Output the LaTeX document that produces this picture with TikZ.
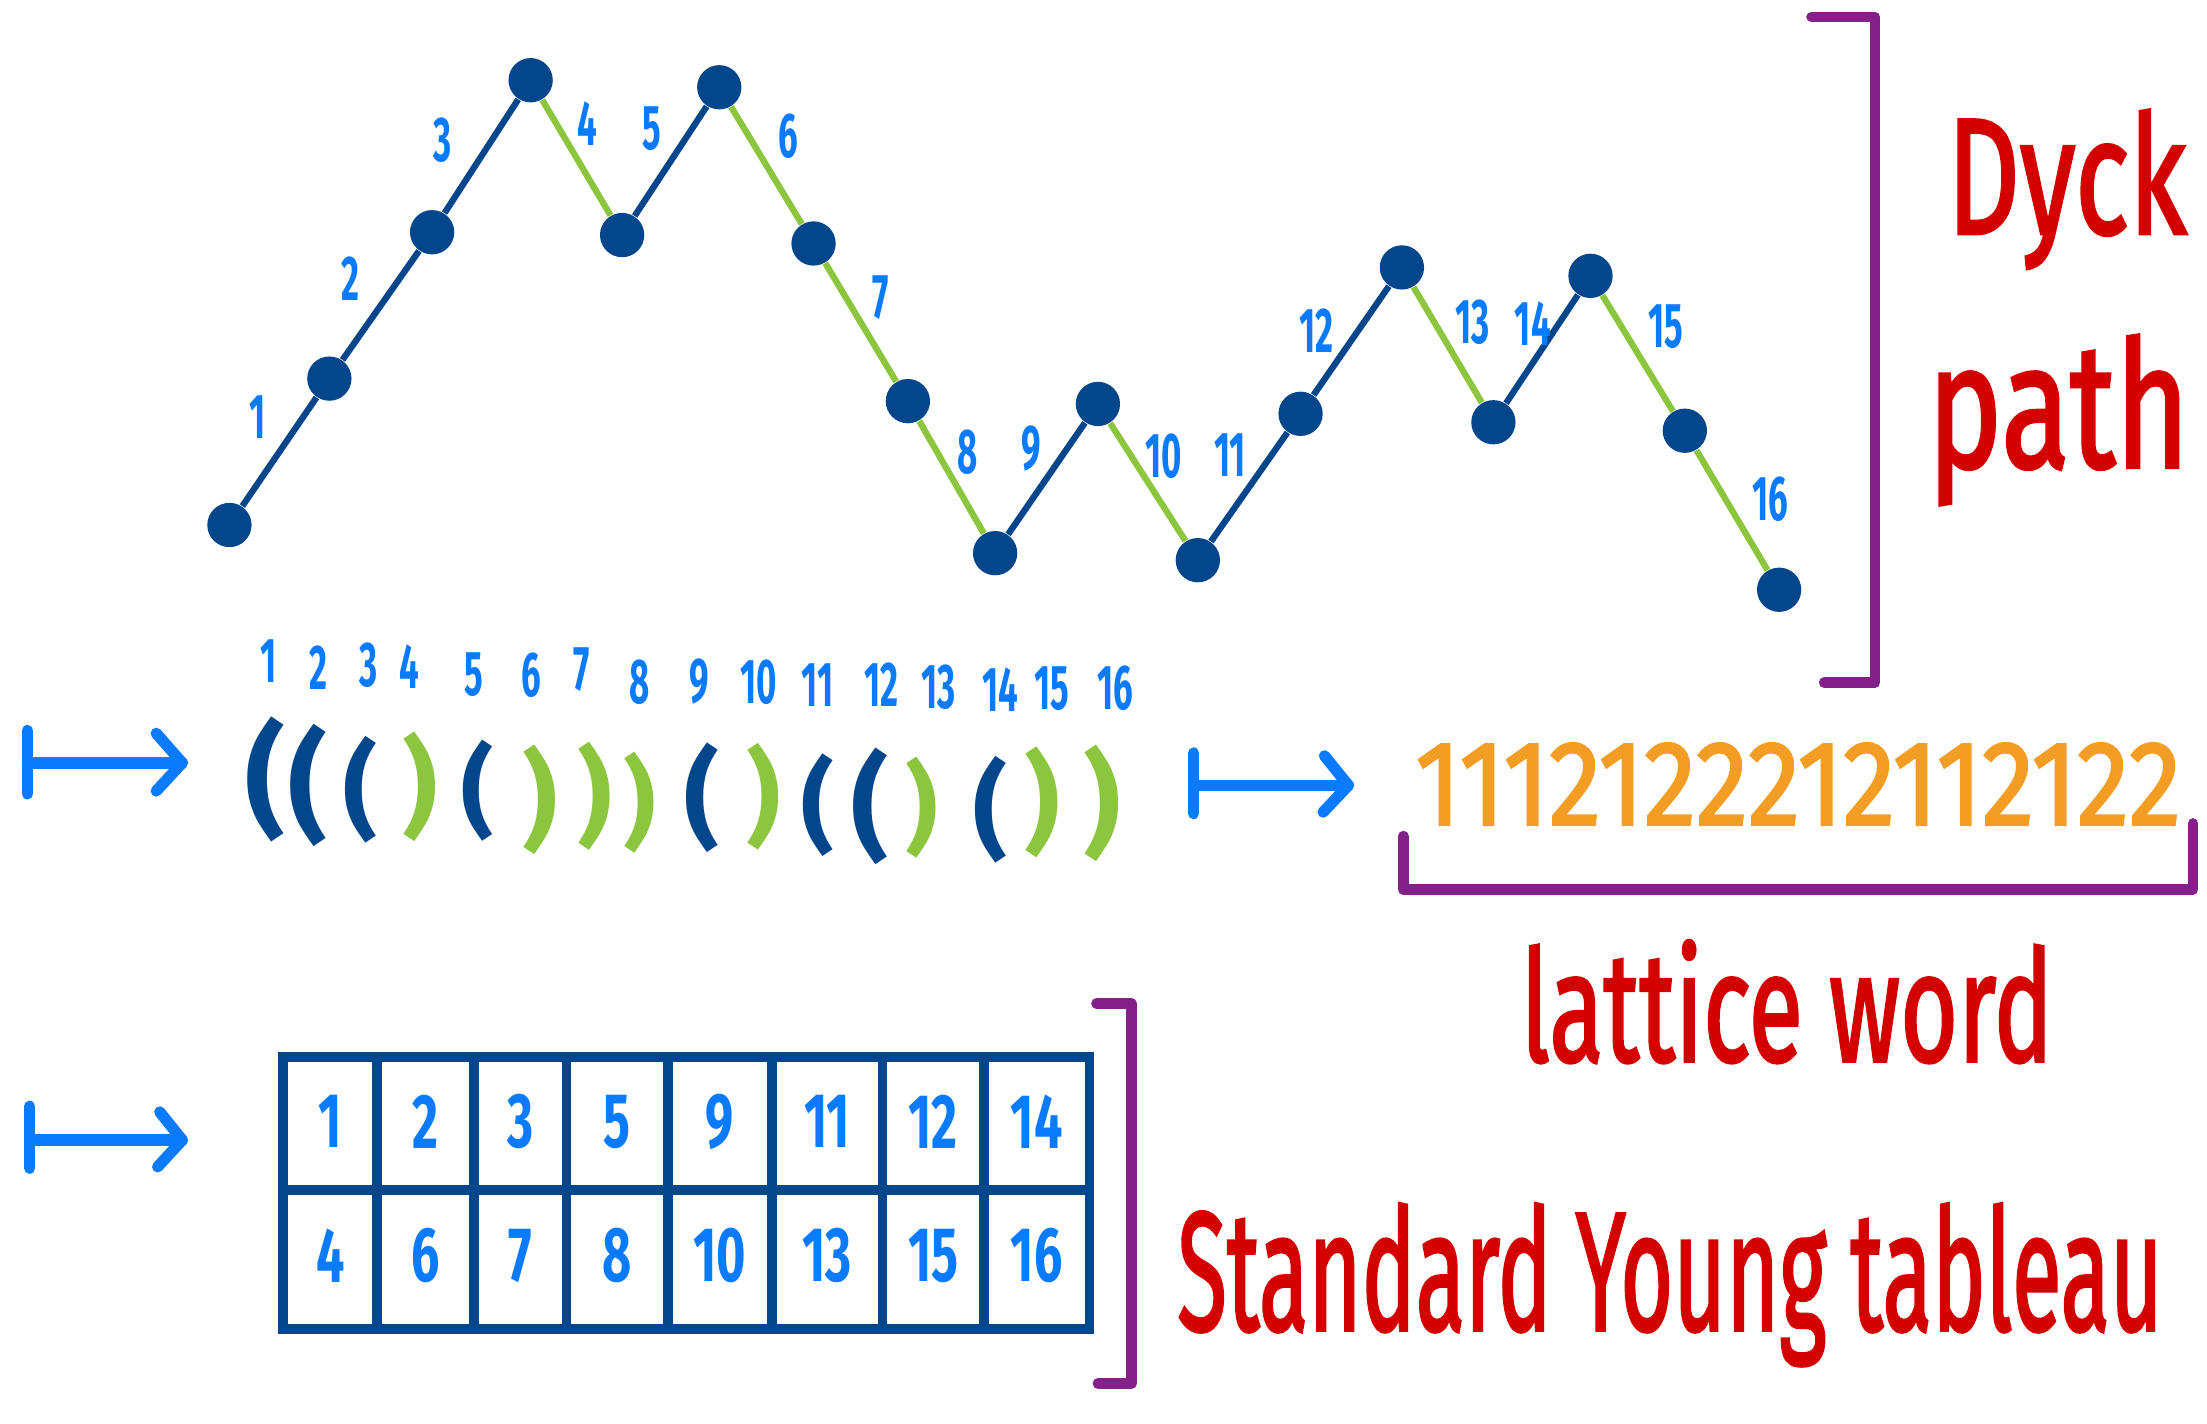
\documentclass[tikz,border=0pt]{standalone}
\usepackage{fontspec}
\setmainfont{Fira Sans}
\newfontfamily\handfont{Fira Sans}[FakeBold=2]
\usetikzlibrary{calc}
\definecolor{dblue}{HTML}{04468C}
\definecolor{lgreen}{HTML}{8CC63F}
\definecolor{lblue}{HTML}{0A7BFF}
\definecolor{hred}{HTML}{D40000}
\definecolor{hpurple}{HTML}{84208A}
\definecolor{horange}{HTML}{F49D25}
\newlength{\pxu}\setlength{\pxu}{0.014075cm}
\newcommand{\nb}[1]{\scalebox{0.55}[1]{#1}}
\newcommand{\tb}[1]{\scalebox{0.65}[1]{#1}}
\newcommand{\pr}[2]{\resizebox*{!}{#1\pxu}{#2}}
\begin{document}
\begin{tikzpicture}[x=0.014075cm,y=-0.014075cm,
 vdot/.style={circle,fill=dblue,minimum size=12.6pt,inner sep=0pt},
 upedge/.style={dblue,line width=1.8pt},
 downedge/.style={lgreen,line width=1.8pt},
 lbl/.style={text=lblue,font=\fontsize{18}{18}\selectfont\bfseries,inner sep=0pt},
 tnum/.style={text=lblue,font=\fontsize{22}{22}\selectfont\bfseries,inner sep=0pt},
 opn/.style={inner sep=0pt,text=dblue,font=\fontsize{30}{30}\selectfont\bfseries},
 cls/.style={inner sep=0pt,text=lgreen,font=\fontsize{30}{30}\selectfont\bfseries},
 hand/.style={text=hred,inner sep=0pt,anchor=base west,font=\fontsize{40}{40}\selectfont\handfont},
 brk/.style={hpurple,line width=3pt,line cap=round,line join=round},
 mapsto/.style={lblue,line width=3.2pt,line cap=round,line join=round},
 tabline/.style={dblue,line width=2.8pt}
]
\path[use as bounding box] (0,0) rectangle (1568,1011.7);

% ---------- Dyck path ----------
\node[vdot] (v0) at (163,373) {};
\node[vdot] (v1) at (234,269) {};
\node[vdot] (v2) at (307,165) {};
\node[vdot] (v3) at (377,57) {};
\node[vdot] (v4) at (442,167) {};
\node[vdot] (v5) at (511,62) {};
\node[vdot] (v6) at (578,173) {};
\node[vdot] (v7) at (645,285) {};
\node[vdot] (v8) at (707,393) {};
\node[vdot] (v9) at (780,287) {};
\node[vdot] (v10) at (851,398) {};
\node[vdot] (v11) at (924,294) {};
\node[vdot] (v12) at (996,190) {};
\node[vdot] (v13) at (1061,300) {};
\node[vdot] (v14) at (1130,196) {};
\node[vdot] (v15) at (1197,306) {};
\node[vdot] (v16) at (1264,419) {};

\draw[upedge] (v0) -- (v1);
\draw[upedge] (v1) -- (v2);
\draw[upedge] (v2) -- (v3);
\draw[downedge] (v3) -- (v4);
\draw[upedge] (v4) -- (v5);
\draw[downedge] (v5) -- (v6);
\draw[downedge] (v6) -- (v7);
\draw[downedge] (v7) -- (v8);
\draw[upedge] (v8) -- (v9);
\draw[downedge] (v9) -- (v10);
\draw[upedge] (v10) -- (v11);
\draw[upedge] (v11) -- (v12);
\draw[downedge] (v12) -- (v13);
\draw[upedge] (v13) -- (v14);
\draw[downedge] (v14) -- (v15);
\draw[downedge] (v15) -- (v16);

\node[lbl] (s1) at (183,296) {\nb{1}};
\node[lbl] (s2) at (249,198) {\nb{2}};
\node[lbl] (s3) at (314.5,99.5) {\nb{3}};
\node[lbl] (s4) at (417.6,88) {\nb{4}};
\node[lbl] (s5) at (463,91.6) {\nb{5}};
\node[lbl] (s6) at (560,97) {\nb{6}};
\node[lbl] (s7) at (625.7,211.6) {\nb{7}};
\node[lbl] (s8) at (687.6,321.5) {\nb{8}};
\node[lbl] (s9) at (732.5,319) {\nb{9}};
\node[lbl] (s10) at (827,324) {\nb{10}};
\node[lbl] (s11) at (874,323) {\nb{11}};
\node[lbl] (s12) at (935.6,234.7) {\nb{12}};
\node[lbl] (s13) at (1046,228.6) {\nb{13}};
\node[lbl] (s14) at (1089,230) {\nb{14}};
\node[lbl] (s15) at (1183.5,232) {\nb{15}};
\node[lbl] (s16) at (1258,354.6) {\nb{16}};

% bracket and label
\draw[brk] (1287,12) -- (1332,12) -- (1332,485) -- (1296,485);
\node[hand] (dyck) at (1383,166) {\resizebox{170\pxu}{88\pxu}{Dyck}};
\node[hand] (pathw) at (1369,332) {\resizebox{186\pxu}{94\pxu}{path}};

% ---------- parentheses row ----------
\coordinate (a1s) at (19.5,542);
\coordinate (a1e) at (129.5,542);
\draw[mapsto] (a1s) -- (a1e);
\draw[mapsto] ($(a1s)+(0,-23)$) -- ($(a1s)+(0,22)$);
\draw[mapsto] ($(a1e)+(-18.5,-21)$) -- (a1e) -- ($(a1e)+(-18.5,20)$);

\node[lbl] (q1) at (191,470) {\nb{1}};
\node[lbl] (q2) at (226,474.6) {\nb{2}};
\node[lbl] (q3) at (261.5,472.5) {\nb{3}};
\node[lbl] (q4) at (290.6,473.7) {\nb{4}};
\node[lbl] (q5) at (336.5,479.6) {\nb{5}};
\node[lbl] (q6) at (377.7,479.6) {\nb{6}};
\node[lbl] (q7) at (413,476) {\nb{7}};
\node[lbl] (q8) at (454.3,485) {\nb{8}};
\node[lbl] (q9) at (496.5,484) {\nb{9}};
\node[lbl] (q10) at (538.8,485) {\nb{10}};
\node[lbl] (q11) at (581,486.7) {\nb{11}};
\node[lbl] (q12) at (626,486.7) {\nb{12}};
\node[lbl] (q13) at (666.6,488) {\nb{13}};
\node[lbl] (q14) at (710.5,490) {\nb{14}};
\node[lbl] (q15) at (747.5,489) {\nb{15}};
\node[lbl] (q16) at (792.4,489) {\nb{16}};

\node[opn] (p1) at (188.6,553.5) {\pr{89}{(}};
\node[opn] (p2) at (219,558) {\pr{87}{(}};
\node[opn] (p3) at (256,561) {\pr{76}{(}};
\node[cls] (p4) at (298.5,559) {\pr{78}{)}};
\node[opn] (p5) at (339.7,562) {\pr{72}{(}};
\node[cls] (p6) at (384,568) {\pr{78}{)}};
\node[cls] (p7) at (422.6,565.5) {\pr{77}{)}};
\node[cls] (p8) at (454.3,570) {\pr{72}{)}};
\node[opn] (p9) at (499,567) {\pr{78}{(}};
\node[cls] (p10) at (542.5,566) {\pr{76}{)}};
\node[opn] (p11) at (581,572) {\pr{73}{(}};
\node[opn] (p12) at (618,573) {\pr{83}{(}};
\node[cls] (p13) at (655,573.7) {\pr{72}{)}};
\node[opn] (p14) at (703.5,575.5) {\pr{76}{(}};
\node[cls] (p15) at (740.6,570) {\pr{79}{)}};
\node[cls] (p16) at (782.8,570.5) {\pr{83}{)}};

% ---------- lattice word ----------
\coordinate (a2s) at (848,558);
\coordinate (a2e) at (958,558);
\draw[mapsto] (a2s) -- (a2e);
\draw[mapsto] ($(a2s)+(0,-23)$) -- ($(a2s)+(0,20)$);
\draw[mapsto] ($(a2e)+(-17,-21)$) -- (a2e) -- ($(a2e)+(-18,19)$);

\node[inner sep=0pt,anchor=base west,text=horange,font=\fontsize{30}{30}\selectfont\handfont] (word) at (1005,586) {\resizebox{544\pxu}{58\pxu}{1112122212112122}};
\draw[brk] (997,594) -- (997,632) -- (1558,632) -- (1558,585);
\node[hand] (lw) at (1080,754) {\resizebox{378\pxu}{86\pxu}{lattice word}};

% ---------- tableau ----------
\coordinate (a3s) at (21,810);
\coordinate (a3e) at (129.5,810);
\draw[mapsto] (a3s) -- (a3e);
\draw[mapsto] ($(a3s)+(0,-24)$) -- ($(a3s)+(0,20)$);
\draw[mapsto] ($(a3e)+(-16,-20)$) -- (a3e) -- ($(a3e)+(-17.5,19)$);

\draw[tabline] (201.3,750.7) rectangle (774,944.5);
\draw[tabline] (201.3,845.5) -- (774,845.5);
\foreach \x in {267.9,336.5,402.5,474.4,548.3,627,698.9}
  \draw[tabline] (\x,750.7) -- (\x,944.5);

\node[tnum] (t11) at (234.6,797) {\tb{1}};
\node[tnum] (t12) at (302.2,797) {\tb{2}};
\node[tnum] (t13) at (369.5,797) {\tb{3}};
\node[tnum] (t14) at (438.5,797) {\tb{5}};
\node[tnum] (t15) at (511.4,797) {\tb{9}};
\node[tnum] (t16) at (587.7,797) {\tb{11}};
\node[tnum] (t17) at (663,797) {\tb{12}};
\node[tnum] (t18) at (736.5,797) {\tb{14}};
\node[tnum] (t21) at (234.6,892) {\tb{4}};
\node[tnum] (t22) at (302.2,892) {\tb{6}};
\node[tnum] (t23) at (369.5,892) {\tb{7}};
\node[tnum] (t24) at (438.5,892) {\tb{8}};
\node[tnum] (t25) at (511.4,892) {\tb{10}};
\node[tnum] (t26) at (587.7,892) {\tb{13}};
\node[tnum] (t27) at (663,892) {\tb{15}};
\node[tnum] (t28) at (736.5,892) {\tb{16}};

\draw[brk] (779,713) -- (804,713) -- (804,983) -- (780,983);
\node[hand] (syt) at (836,945) {\resizebox{700\pxu}{90\pxu}{Standard Young tableau}};
\end{tikzpicture}
\end{document}
